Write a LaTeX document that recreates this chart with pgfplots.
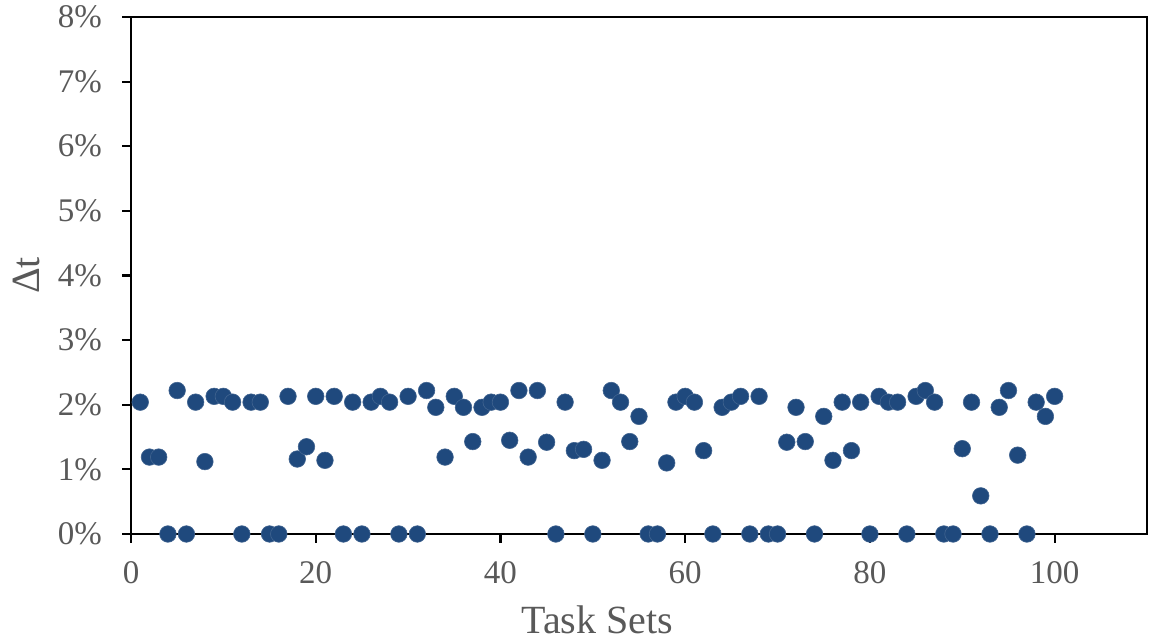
\documentclass[border=0pt]{standalone}
\usepackage{fontspec}
\setmainfont{Liberation Serif}
\usepackage{pgfplots}
\pgfplotsset{compat=1.18}
\definecolor{ptblue}{HTML}{1F497D}
\definecolor{lblgray}{HTML}{595959}
\pgfplotstableread{
x y
1 2.04
2 1.19
3 1.19
4 0
5 2.22
6 0
7 2.04
8 1.12
9 2.13
10 2.13
11 2.04
12 0
13 2.04
14 2.04
15 0
16 0
17 2.13
18 1.16
19 1.35
20 2.13
21 1.14
22 2.13
23 0
24 2.04
25 0
26 2.04
27 2.13
28 2.04
29 0
30 2.13
31 0
32 2.22
33 1.96
34 1.19
35 2.13
36 1.96
37 1.43
38 1.96
39 2.04
40 2.04
41 1.45
42 2.22
43 1.19
44 2.22
45 1.42
46 0
47 2.04
48 1.29
49 1.31
50 0
51 1.14
52 2.22
53 2.04
54 1.43
55 1.82
56 0
57 0
58 1.10
59 2.04
60 2.13
61 2.04
62 1.29
63 0
64 1.96
65 2.04
66 2.13
67 0
68 2.13
69 0
70 0
71 1.42
72 1.96
73 1.43
74 0
75 1.82
76 1.14
77 2.04
78 1.29
79 2.04
80 0
81 2.13
82 2.04
83 2.04
84 0
85 2.13
86 2.22
87 2.04
88 0
89 0
90 1.32
91 2.04
92 0.59
93 0
94 1.96
95 2.22
96 1.22
97 0
98 2.04
99 1.82
100 2.13
}\datatable
\begin{document}
\begin{tikzpicture}
\begin{axis}[
  name=ax,
  scale only axis, width=1016bp, height=517bp,
  xmin=0, xmax=110, ymin=0, ymax=8,
  xtick={0,20,...,100}, ytick={0,1,...,8},
  yticklabel={\pgfmathprintnumber{\tick}\%},
  /pgf/number format/assume math mode=true,
  tick align=outside, tick pos=left,
  major tick length=9bp,
  tick style={black, line width=2.2bp},
  axis line style={black, line width=1.3bp},
  tick label style={font=\fontsize{33bp}{38bp}\selectfont, text=lblgray, inner sep=0pt},
  xticklabel style={anchor=base, yshift=-41bp},
  yticklabel style={anchor=east, xshift=-20bp},
  label style={font=\fontsize{40bp}{46bp}\selectfont, text=lblgray, inner sep=0pt},
  xlabel={Task Sets}, ylabel={Δt},
  xlabel style={at={(axis description cs:0.459,-0.1915)}, anchor=base},
  ylabel style={at={(axis description cs:-0.0896,0.5)}, anchor=base, rotate=0},
]
\draw[black, line width=2.8bp] (rel axis cs:0,1) -- (rel axis cs:0,0) -- (rel axis cs:1,0);
\addplot[only marks, mark=*, mark size=8.3bp, color=ptblue,
  mark options={fill=ptblue, draw=ptblue!85!white, line width=0.6bp}] table[x=x, y=y] {\datatable};
\end{axis}
\pgfresetboundingbox
\path ([shift={(-131bp,-106bp)}]ax.south west) rectangle ([shift={(4bp,17bp)}]ax.north east);
\end{tikzpicture}
\end{document}
